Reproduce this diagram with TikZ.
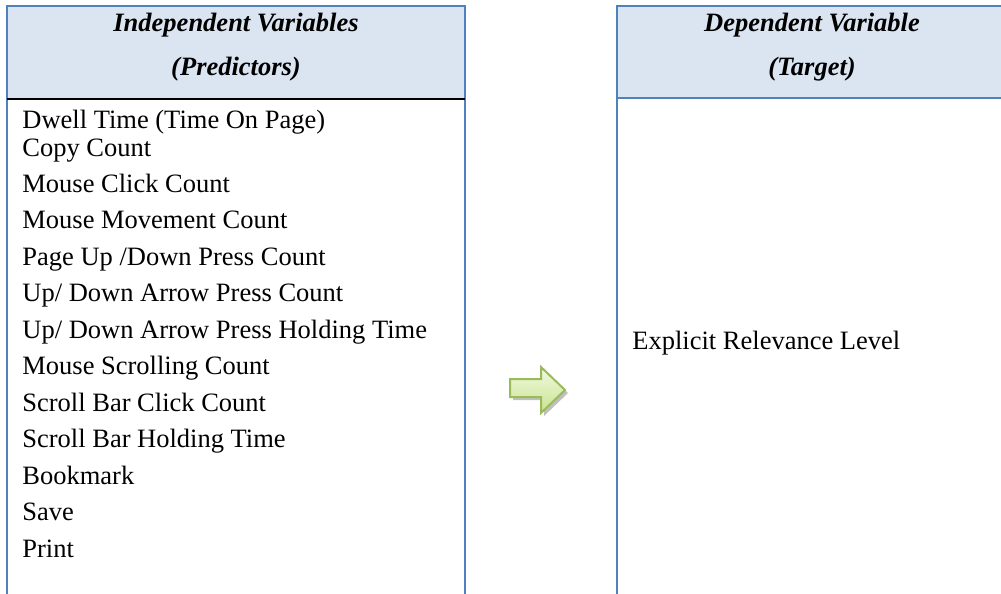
\documentclass[tikz,border=0pt]{standalone}
\usepackage{fontspec}
\setmainfont{Liberation Serif}
\usepackage{tikz}
\usetikzlibrary{calc}

\definecolor{boxblue}{HTML}{4F81BD}
\definecolor{headfill}{HTML}{DBE5F1}
\definecolor{arrowline}{HTML}{9BBB59}
\definecolor{arrowtop}{HTML}{F2F9E0}
\definecolor{arrowbot}{HTML}{C9E291}

\begin{document}
\begin{tikzpicture}[x=0.5pt,y=-0.5pt,
    headtext/.style={anchor=base,inner sep=0pt,font=\fontsize{13.25}{15}\selectfont\bfseries\itshape},
    itemtext/.style={anchor=base west,inner sep=0pt,font=\fontsize{13.25}{15}\selectfont},
    frame/.style={draw=boxblue,line width=1pt}]
            \useasboundingbox (0,0) rectangle (1001,594);
            \clip (0,0) rectangle (1001,594);
            \coordinate (la) at (7,6);
            \coordinate (lb) at (465,99);
            \coordinate (ra) at (617,6);
            \coordinate (rb) at (1010,98);
            % headers
            \fill[headfill] (la) rectangle (lb);
            \fill[headfill] (ra) rectangle (rb);
            \draw[frame] (7,600) -- (la) -- (465,6) -- (465,600);
            \draw[black,line width=1pt] (7,99) -- (lb);
            \draw[frame] (617,600) -- (ra) -- (1010,6);
            \draw[frame] (617,98) -- (rb);
            \node[headtext] (indep) at(236,32) {Independent Variables};
            \node[headtext] (pred) at(236,75) {(Predictors)};
            \node[headtext] (dep) at(812,32) {Dependent Variable};
            \node[headtext] (targ) at(812,75) {(Target)};
            % predictors
            \node[itemtext] (dwell) at(22,128) {Dwell Time (Time On Page)};
            \node[itemtext] (copy) at(22,156) {Copy Count};
            \node[itemtext] (click) at(22,192) {Mouse Click Count};
            \node[itemtext] (move) at(22,228.5) {Mouse Movement Count};
            \node[itemtext] (page) at(22,265) {Page Up /Down Press Count};
            \node[itemtext] (arrowcnt) at(22,301.5) {Up/ Down Arrow Press Count};
            \node[itemtext] (arrowhold) at(22,338) {Up/ Down Arrow Press Holding Time};
            \node[itemtext] (scroll) at(22,374.5) {Mouse Scrolling Count};
            \node[itemtext] (barclick) at(22,411) {Scroll Bar Click Count};
            \node[itemtext] (barhold) at(22,447.5) {Scroll Bar Holding Time};
            \node[itemtext] (bookmark) at(22,484) {Bookmark};
            \node[itemtext] (save) at(22,520.5) {Save};
            \node[itemtext] (print) at(22,557) {Print};
            % target
            \node[itemtext] (level) at(632,349) {Explicit Relevance Level};
            % block arrow
            \fill[black!25] (513,382) -- (544,382) -- (544,370) -- (568,393) -- (544,416) -- (544,400) -- (513,400) -- cycle;
            \draw[arrowline,line width=1pt,top color=arrowtop,bottom color=arrowbot]
                (510,379) -- (541,379) -- (541,367) -- (565,390) -- (541,413) -- (541,397) -- (510,397) -- cycle;
        \end{tikzpicture}
\end{document}
